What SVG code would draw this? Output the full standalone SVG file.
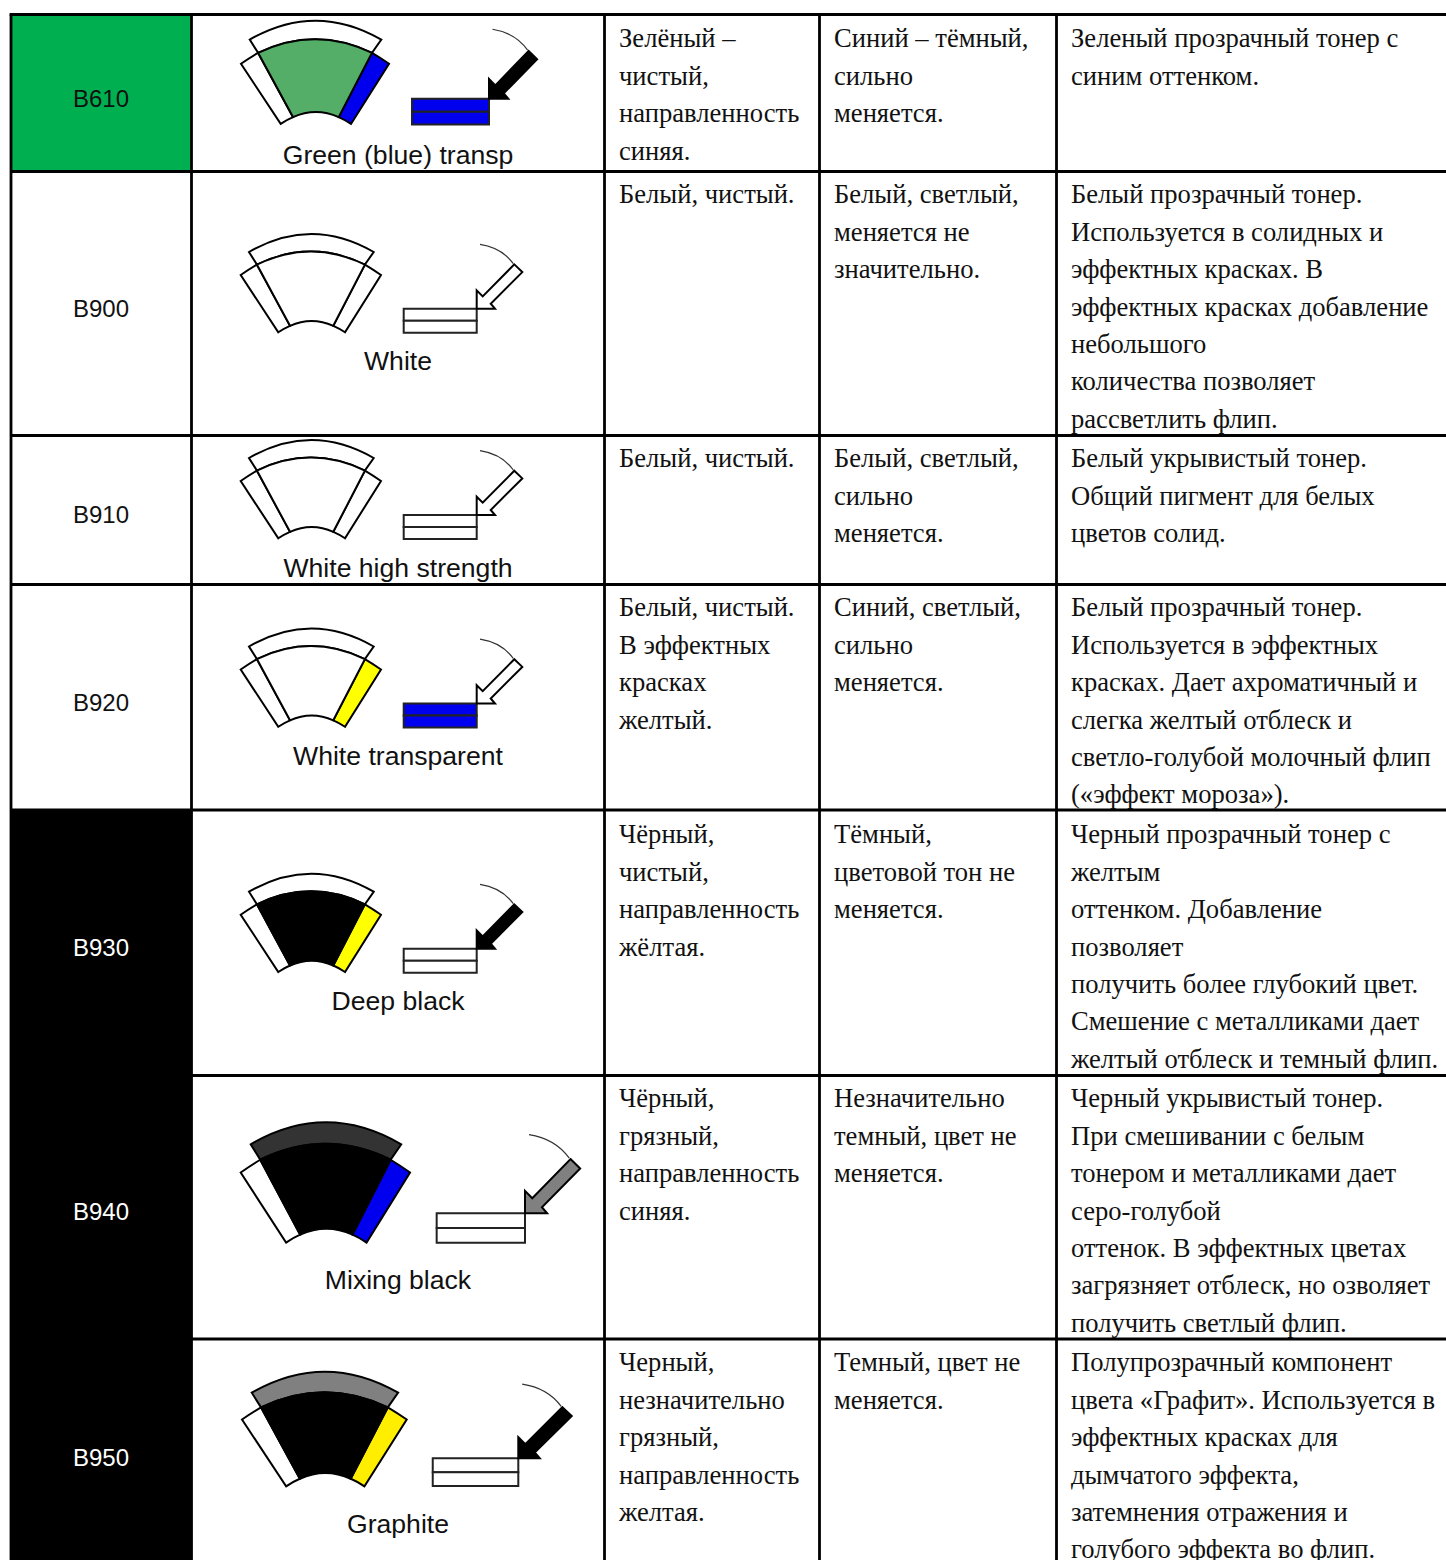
<svg xmlns="http://www.w3.org/2000/svg" xmlns:xlink="http://www.w3.org/1999/xlink" width="1446" height="1560" viewBox="0 0 1446 1560">
<style>
.g{stroke:#000;stroke-width:2.8;fill:none}
.s{stroke:#000;stroke-width:2;stroke-linejoin:miter;vector-effect:non-scaling-stroke}
.r{stroke:#222;stroke-width:2;vector-effect:non-scaling-stroke}
.c{fill:none;stroke:#333;stroke-width:1.2;vector-effect:non-scaling-stroke}
.t{font-family:"Liberation Serif","Times New Roman",serif;font-size:26.6px;fill:#111}
.l{font-family:"Liberation Sans",Arial,sans-serif;font-size:26.6px;fill:#111;text-anchor:middle}
.k{font-family:"Liberation Sans",Arial,sans-serif;font-size:24px;fill:#111;text-anchor:middle}
.w{fill:#fff}
</style>
<defs>
<path id="top" class="s" d="M8.3,18Q70.6,-18 133,18L124.2,30.6Q70.2,4.6 16.2,30.6Z"/>
<path id="left" class="s" d="M0,41Q8.1,35.4 16.2,30.6L49.3,91.8Q43.4,94.3 37.6,98.3Z"/>
<path id="right" class="s" d="M140.3,41Q132.2,35.4 124.2,30.6L92.6,91.8Q98.5,94.3 104.3,98.3Z"/>
<path id="mid" class="s" d="M16.2,30.6Q70.2,4.6 124.2,30.6L92.6,91.8Q71,82.1 49.3,91.8Z"/>
<path id="arr" class="s" d="M37.6,-44.3L45.6,-36.6L14,-5L18.3,0L0,0L0,-18.3L6,-12.3Z"/>
<path id="arc" class="c" d="M3.3,-64.3Q25,-61 36.6,-45"/>
<rect id="box" class="r" x="-73" y="0" width="73" height="12"/>
<rect id="box2" class="r" x="-73" y="12" width="73" height="12"/>
</defs>
<rect width="1446" height="1560" fill="#fff"/>
<g id="fills">
<rect x="11" y="14.5" width="180.5" height="157" fill="#00b050"/>
<rect x="11" y="810" width="180.5" height="750" fill="#000"/>
</g>
<g id="grid" class="g">
<path d="M9.6,14.5H1446M11,171.5H1446M11,435.5H1446M11,584.5H1446M11,810H1446M191.5,1075.5H1446M191.5,1339H1446"/>
<path d="M11,14.5V1560M191.5,14.5V1560M604.5,14.5V1560M819.5,14.5V1560M1056.5,14.5V1560"/>
</g>

<g id="b610">
<text class="k" x="101" y="107">B610</text>
<g transform="translate(241,20.7) scale(1.055,1.05)">
<use href="#top" fill="#fff"/><use href="#left" fill="#fff"/><use href="#right" fill="#0000ee"/><use href="#mid" fill="#55ae68"/>
</g>
<g transform="translate(489,98.7) scale(1.055,1.08)">
<use href="#box" fill="#0000ee"/><use href="#box2" fill="#0000ee"/><use href="#arr" fill="#000"/><use href="#arc"/>
</g>
<text class="l" x="398" y="164">Green (blue) transp</text>
<text class="t" x="619" y="47.4">Зелёный –<tspan x="619" dy="37.4">чистый,</tspan><tspan x="619" dy="37.4">направленность</tspan><tspan x="619" dy="37.4">синяя.</tspan></text>
<text class="t" x="834" y="47.4">Синий – тёмный,<tspan x="834" dy="37.4">сильно</tspan><tspan x="834" dy="37.4">меняется.</tspan></text>
<text class="t" x="1071" y="47.4">Зеленый прозрачный тонер с<tspan x="1071" dy="37.4">синим оттенком.</tspan></text>
</g>

<g id="b900">
<text class="k" x="101" y="317">B900</text>
<g transform="translate(240.7,234)">
<use href="#top" fill="#fff"/><use href="#left" fill="#fff"/><use href="#right" fill="#fff"/><use href="#mid" fill="#fff"/>
</g>
<g transform="translate(476.7,308.7)">
<use href="#box" fill="#fff"/><use href="#box2" fill="#fff"/><use href="#arr" fill="#fff"/><use href="#arc"/>
</g>
<text class="l" x="398" y="370">White</text>
<text class="t" x="619" y="203.4">Белый, чистый.</text>
<text class="t" x="834" y="203.4">Белый, светлый,<tspan x="834" dy="37.4">меняется не</tspan><tspan x="834" dy="37.4">значительно.</tspan></text>
<text class="t" x="1071" y="203.4">Белый прозрачный тонер.<tspan x="1071" dy="37.4">Используется в солидных и</tspan><tspan x="1071" dy="37.4">эффектных красках. В</tspan><tspan x="1071" dy="37.4">эффектных красках добавление</tspan><tspan x="1071" dy="37.4">небольшого</tspan><tspan x="1071" dy="37.4">количества позволяет</tspan><tspan x="1071" dy="37.4">рассветлить флип.</tspan></text>
</g>

<g id="b910">
<text class="k" x="101" y="523">B910</text>
<g transform="translate(240.7,440)">
<use href="#top" fill="#fff"/><use href="#left" fill="#fff"/><use href="#right" fill="#fff"/><use href="#mid" fill="#fff"/>
</g>
<g transform="translate(476.7,515)">
<use href="#box" fill="#fff"/><use href="#box2" fill="#fff"/><use href="#arr" fill="#fff"/><use href="#arc"/>
</g>
<text class="l" x="398" y="577">White high strength</text>
<text class="t" x="619" y="467.4">Белый, чистый.</text>
<text class="t" x="834" y="467.4">Белый, светлый,<tspan x="834" dy="37.4">сильно</tspan><tspan x="834" dy="37.4">меняется.</tspan></text>
<text class="t" x="1071" y="467.4">Белый укрывистый тонер.<tspan x="1071" dy="37.4">Общий пигмент для белых</tspan><tspan x="1071" dy="37.4">цветов солид.</tspan></text>
</g>

<g id="b920">
<text class="k" x="101" y="711">B920</text>
<g transform="translate(240.7,628.5)">
<use href="#top" fill="#fff"/><use href="#left" fill="#fff"/><use href="#right" fill="#ffff00"/><use href="#mid" fill="#fff"/>
</g>
<g transform="translate(476.7,703.5)">
<use href="#box" fill="#0000ee"/><use href="#box2" fill="#0000ee"/><use href="#arr" fill="#fff"/><use href="#arc"/>
</g>
<text class="l" x="398" y="765">White transparent</text>
<text class="t" x="619" y="616.4">Белый, чистый.<tspan x="619" dy="37.4">В эффектных</tspan><tspan x="619" dy="37.4">красках</tspan><tspan x="619" dy="37.4">желтый.</tspan></text>
<text class="t" x="834" y="616.4">Синий, светлый,<tspan x="834" dy="37.4">сильно</tspan><tspan x="834" dy="37.4">меняется.</tspan></text>
<text class="t" x="1071" y="616.4">Белый прозрачный тонер.<tspan x="1071" dy="37.4">Используется в эффектных</tspan><tspan x="1071" dy="37.4">красках. Дает ахроматичный и</tspan><tspan x="1071" dy="37.4">слегка желтый отблеск и</tspan><tspan x="1071" dy="37.4">светло-голубой молочный флип</tspan><tspan x="1071" dy="37.4">(«эффект мороза»).</tspan></text>
</g>

<g id="b930">
<text class="k w" x="101" y="956">B930</text>
<g transform="translate(240.7,873.7)">
<use href="#top" fill="#fff"/><use href="#left" fill="#fff"/><use href="#right" fill="#ffff00"/><use href="#mid" fill="#000"/>
</g>
<g transform="translate(476.7,948.7)">
<use href="#box" fill="#fff"/><use href="#box2" fill="#fff"/><use href="#arr" fill="#000"/><use href="#arc"/>
</g>
<text class="l" x="398" y="1010">Deep black</text>
<text class="t" x="619" y="843.4">Чёрный,<tspan x="619" dy="37.4">чистый,</tspan><tspan x="619" dy="37.4">направленность</tspan><tspan x="619" dy="37.4">жёлтая.</tspan></text>
<text class="t" x="834" y="843.4">Тёмный,<tspan x="834" dy="37.4">цветовой тон не</tspan><tspan x="834" dy="37.4">меняется.</tspan></text>
<text class="t" x="1071" y="843.4">Черный прозрачный тонер с<tspan x="1071" dy="37.4">желтым</tspan><tspan x="1071" dy="37.4">оттенком. Добавление</tspan><tspan x="1071" dy="37.4">позволяет</tspan><tspan x="1071" dy="37.4">получить более глубокий цвет.</tspan><tspan x="1071" dy="37.4">Смешение с металликами дает</tspan><tspan x="1071" dy="37.4">желтый отблеск и темный флип.</tspan></text>
</g>

<g id="b940">
<text class="k w" x="101" y="1220">B940</text>
<g transform="translate(240.7,1122.3) scale(1.207,1.224)">
<use href="#top" fill="#333"/><use href="#left" fill="#fff"/><use href="#right" fill="#0000ee"/><use href="#mid" fill="#000"/>
</g>
<g transform="translate(525,1213.3) scale(1.21,1.224)">
<use href="#box" fill="#fff"/><use href="#box2" fill="#fff"/><use href="#arr" fill="#808080"/><use href="#arc"/>
</g>
<text class="l" x="398" y="1289">Mixing black</text>
<text class="t" x="619" y="1107.4">Чёрный,<tspan x="619" dy="37.4">грязный,</tspan><tspan x="619" dy="37.4">направленность</tspan><tspan x="619" dy="37.4">синяя.</tspan></text>
<text class="t" x="834" y="1107.4">Незначительно<tspan x="834" dy="37.4">темный, цвет не</tspan><tspan x="834" dy="37.4">меняется.</tspan></text>
<text class="t" x="1071" y="1107.4">Черный укрывистый тонер.<tspan x="1071" dy="37.4">При смешивании с белым</tspan><tspan x="1071" dy="37.4">тонером и металликами дает</tspan><tspan x="1071" dy="37.4">серо-голубой</tspan><tspan x="1071" dy="37.4">оттенок. В эффектных цветах</tspan><tspan x="1071" dy="37.4">загрязняет отблеск, но озволяет</tspan><tspan x="1071" dy="37.4">получить светлый флип.</tspan></text>
</g>

<g id="b950">
<text class="k w" x="101" y="1466">B950</text>
<g transform="translate(242,1371.7) scale(1.174,1.166)">
<use href="#top" fill="#808080"/><use href="#left" fill="#fff"/><use href="#right" fill="#ffee00"/><use href="#mid" fill="#000"/>
</g>
<g transform="translate(518.3,1458.3) scale(1.172,1.155)">
<use href="#box" fill="#fff"/><use href="#box2" fill="#fff"/><use href="#arr" fill="#000"/><use href="#arc"/>
</g>
<text class="l" x="398" y="1533">Graphite</text>
<text class="t" x="619" y="1371.4">Черный,<tspan x="619" dy="37.4">незначительно</tspan><tspan x="619" dy="37.4">грязный,</tspan><tspan x="619" dy="37.4">направленность</tspan><tspan x="619" dy="37.4">желтая.</tspan></text>
<text class="t" x="834" y="1371.4">Темный, цвет не<tspan x="834" dy="37.4">меняется.</tspan></text>
<text class="t" x="1071" y="1371.4">Полупрозрачный компонент<tspan x="1071" dy="37.4">цвета «Графит». Используется в</tspan><tspan x="1071" dy="37.4">эффектных красках для</tspan><tspan x="1071" dy="37.4">дымчатого эффекта,</tspan><tspan x="1071" dy="37.4">затемнения отражения и</tspan><tspan x="1071" dy="37.4">голубого эффекта во флип.</tspan></text>
</g>
</svg>
